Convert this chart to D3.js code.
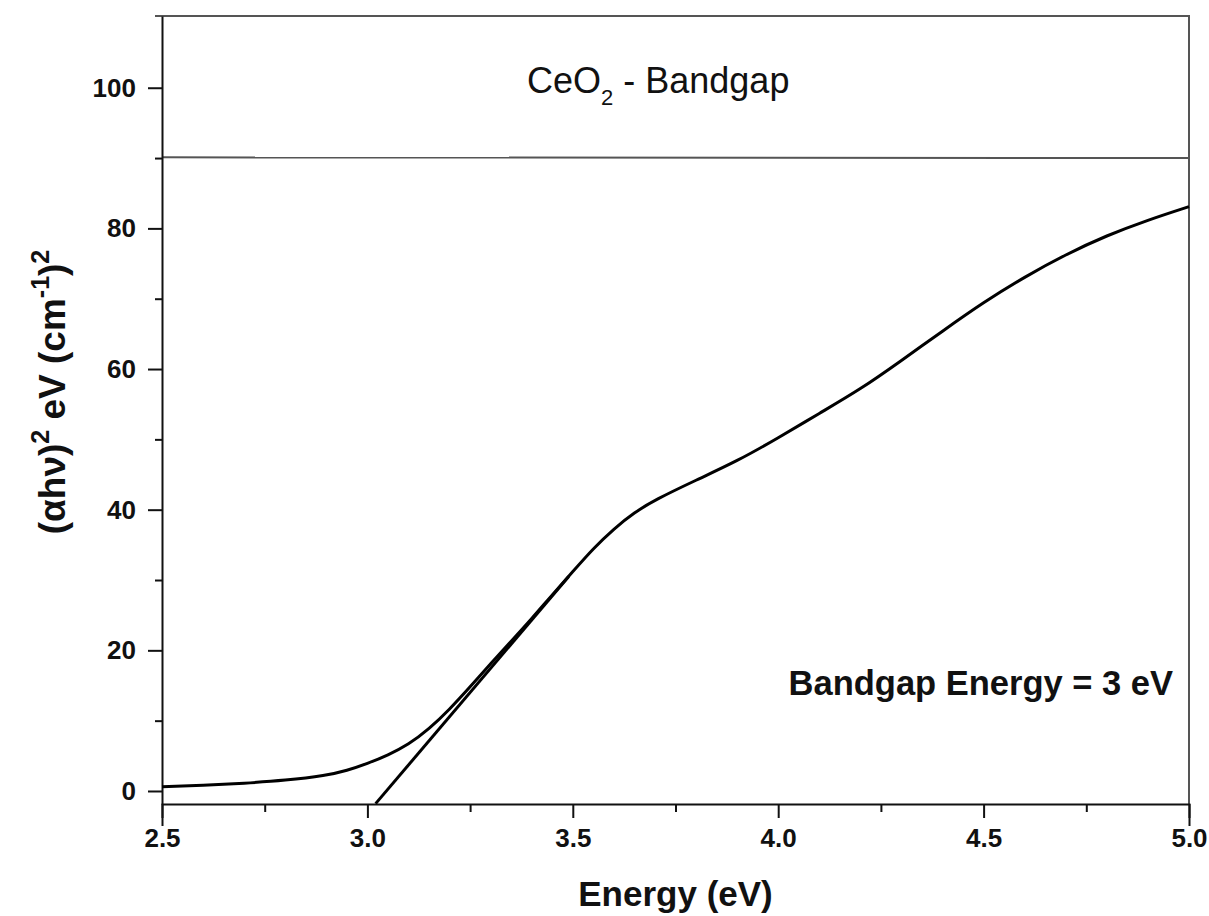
<!DOCTYPE html>
<html>
<head>
<meta charset="utf-8">
<script src="https://cdn.jsdelivr.net/npm/d3@7"></script>
<style>
  body { margin: 0; background: #fff; }
  text { font-family: 'Liberation Sans', Arial, sans-serif; fill: #111; }
</style>
</head>
<body>
<div id="chart"></div>
<script>
// values
var energy = [2.5, 2.6, 2.7, 2.8, 2.9, 2.95, 3.0, 3.05, 3.1, 3.15, 3.2, 3.25, 3.3, 3.35, 3.4, 3.45,
  3.5, 3.55, 3.6, 3.65, 3.7, 3.8, 3.9, 4.0, 4.1, 4.2, 4.3, 4.4, 4.5, 4.6, 4.7, 4.8, 4.9, 5.0]
var absorb = [0.6, 0.8, 1.1, 1.5, 2.2, 2.9, 3.9, 5.1, 6.6, 8.8, 11.6, 14.8, 18.1, 21.3, 24.5, 27.9,
  31.2, 34.5, 37.3, 39.6, 41.4, 44.2, 46.9, 50.2, 53.7, 57.1, 61.2, 65.4, 69.5, 73.1, 76.3, 79.0, 81.2, 83.1]

// linear fit used to read the band gap
var fitX = [3.02, 3.49]
var fitY = [-1.8, 30.5]

var xTicks = [2.5, 3.0, 3.5, 4.0, 4.5, 5.0]
var xMinor = [2.75, 3.25, 3.75, 4.25, 4.75]
var yTicks = [0, 20, 40, 60, 80, 100]
var yMinor = [10, 30, 50, 70, 90]

var width = 1209
var height = 916
var margin = {top: 16, right: 20, bottom: 112, left: 162}

var svg = d3
  .select('#chart')
  .append('svg')
  .attr('width', width)
  .attr('height', height)

var x = d3.scaleLinear().domain([2.5, 5.0]).range([margin.left, width - margin.right])
var y = d3.scaleLinear().domain([-1.85, 110.2]).range([height - margin.bottom, margin.top])

var x0 = x.range()[0], x1 = x.range()[1]
var y0 = y.range()[0], y1 = y.range()[1]

// frame: top and right in grey, plus the divider under the title
svg.append('path')
  .attr('d', 'M' + (x0 - 7) + ',' + y1 + 'H' + x1 + 'V' + y0)
  .attr('fill', 'none')
  .attr('stroke', '#555')
  .attr('stroke-width', 2)

svg.append('line')
  .attr('x1', x0).attr('x2', x1)
  .attr('y1', y(90.1)).attr('y2', y(90))
  .attr('stroke', '#555')
  .attr('stroke-width', 2)

// minor ticks
svg.append('g')
  .attr('transform', 'translate(0,' + y0 + ')')
  .call(d3.axisBottom(x).tickValues(xMinor).tickSize(8).tickFormat(''))
  .call(g => g.select('.domain').remove())
  .call(g => g.selectAll('line').attr('stroke', '#111').attr('stroke-width', 2))

svg.append('g')
  .attr('transform', 'translate(' + x0 + ',0)')
  .call(d3.axisLeft(y).tickValues(yMinor).tickSize(7).tickFormat(''))
  .call(g => g.select('.domain').remove())
  .call(g => g.selectAll('line').attr('stroke', '#111').attr('stroke-width', 2))

// main axes
var xAxis = svg.append('g')
  .attr('transform', 'translate(0,' + y0 + ')')
  .call(d3.axisBottom(x).tickValues(xTicks).tickSize(14).tickSizeOuter(22).tickPadding(11)
    .tickFormat(d3.format('.1f')))

var yAxis = svg.append('g')
  .attr('transform', 'translate(' + x0 + ',0)')
  .call(d3.axisLeft(y).tickValues(yTicks).tickSize(14).tickSizeOuter(0).tickPadding(12))

;[xAxis, yAxis].forEach(function (g) {
  g.selectAll('path, line').attr('stroke', '#111').attr('stroke-width', 2)
  g.selectAll('text')
    .attr('font-size', 26)
    .attr('font-weight', 'bold')
    .attr('fill', '#111')
})

// data curve
var points = energy.map(function (d, i) { return [d, absorb[i]] })
var line = d3.line()
  .x(d => x(d[0]))
  .y(d => y(d[1]))
  .curve(d3.curveBasis)

svg.append('path')
  .datum(points)
  .attr('d', line)
  .attr('fill', 'none')
  .attr('stroke', '#000')
  .attr('stroke-width', 3)

svg.append('path')
  .datum(fitX.map(function (d, i) { return [d, fitY[i]] }))
  .attr('d', d3.line().x(d => x(d[0])).y(d => y(d[1])))
  .attr('fill', 'none')
  .attr('stroke', '#000')
  .attr('stroke-width', 3)

// title
var title = svg.append('text')
  .attr('x', 527)
  .attr('y', 93)
  .attr('font-size', 36)
title.append('tspan').text('CeO')
title.append('tspan').text('2').attr('font-size', 22).attr('dy', 12)
title.append('tspan').text(' - Bandgap').attr('dy', -12)

// annotation
svg.append('text')
  .attr('x', 1173)
  .attr('y', 695)
  .attr('text-anchor', 'end')
  .attr('font-size', 34.5)
  .attr('font-weight', 'bold')
  .text('Bandgap Energy = 3 eV')

// axis titles
svg.append('text')
  .attr('x', (x0 + x1) / 2)
  .attr('y', 906)
  .attr('text-anchor', 'middle')
  .attr('font-size', 35)
  .attr('font-weight', 'bold')
  .text('Energy (eV)')

var yLabel = svg.append('text')
  .attr('transform', 'translate(65,392) rotate(-90)')
  .attr('text-anchor', 'middle')
  .attr('font-size', 37)
  .attr('font-weight', 'bold')
yLabel.append('tspan').text('(\u03b1h\u03bd)')
yLabel.append('tspan').text('2').attr('font-size', 25).attr('dy', -16)
yLabel.append('tspan').text(' eV (cm').attr('dy', 16)
yLabel.append('tspan').text('-1').attr('font-size', 25).attr('dy', -16)
yLabel.append('tspan').text(')').attr('dy', 16)
yLabel.append('tspan').text('2').attr('font-size', 25).attr('dy', -16)
</script>
</body>
</html>
